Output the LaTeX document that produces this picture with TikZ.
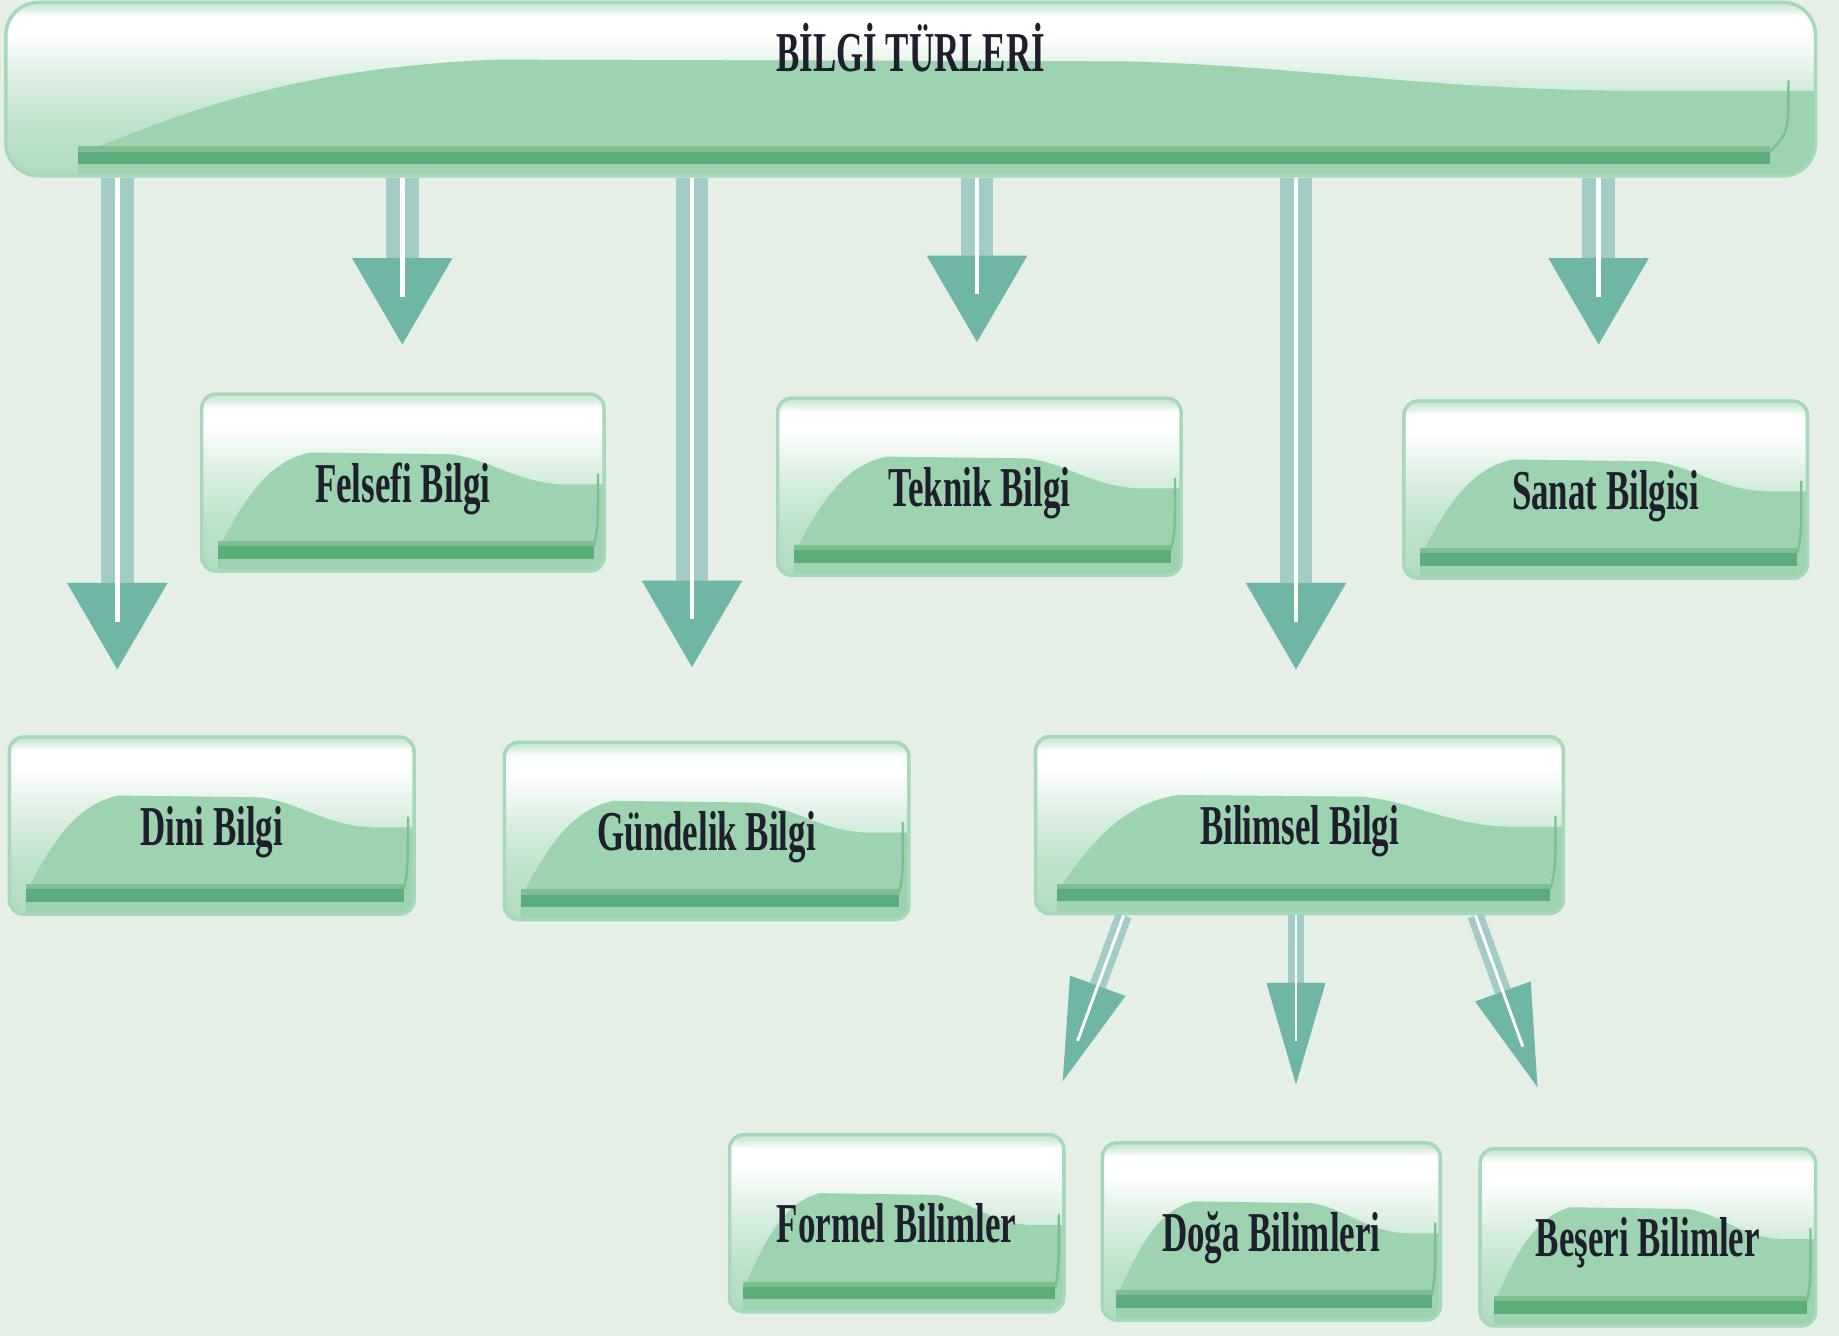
\documentclass[tikz,border=0pt]{standalone}
\usepackage{fontspec}
\newfontfamily\boxfont[FakeStretch=0.62]{Liberation Serif}
\usetikzlibrary{arrows.meta,calc}

\definecolor{bgcol}{HTML}{E5EFE6}
\definecolor{boxgreen}{HTML}{9DD3AF}
\definecolor{boxedge}{HTML}{A6D9B8}
\definecolor{banddark}{HTML}{5DAD7C}
\definecolor{bandmid}{HTML}{7DBF93}
\definecolor{shaftcol}{HTML}{A2CCC5}
\definecolor{tipcol}{HTML}{70B6A7}
\definecolor{txtcol}{HTML}{1E1E2C}

\pgfdeclareverticalshading{glossy}{100bp}{color(0bp)=(boxgreen!80!white); color(25bp)=(boxgreen!80!white); color(40bp)=(boxgreen!65!white); color(52bp)=(boxgreen!40!white); color(62bp)=(boxgreen!12!white); color(66bp)=(white); color(71bp)=(white); color(74bp)=(boxgreen!50!white); color(100bp)=(boxgreen!50!white)}

\begin{document}
\begin{tikzpicture}[x=1pt, y=-1pt,
  glossbox/.style={draw=boxedge, line width=3pt, rounded corners=12pt, fill=boxgreen, minimum width=#1, minimum height=151pt, inner sep=0pt, text depth=0pt, text=txtcol, font=\boxfont\bfseries\fontsize{48}{50}\selectfont,
    path picture={
      \shade[shading=glossy, sharp corners] (path picture bounding box.south west) rectangle (path picture bounding box.north east);
      \fill[boxgreen, sharp corners] let \p1=(path picture bounding box.south west), \p2=(path picture bounding box.north east), \n1={\x2-\x1}, \n2={\y2-\y1} in
        ({\x1+0.04*\n1},{\y1}) -- ({\x1+0.04*\n1},{\y1+0.12*\n2})
        .. controls ({\x1+0.1*\n1},{\y1+0.38*\n2}) and ({\x1+0.16*\n1},{\y1+0.62*\n2}) .. ({\x1+0.27*\n1},{\y1+0.67*\n2})
        -- ({\x1+0.62*\n1},{\y1+0.66*\n2})
        .. controls ({\x1+0.72*\n1},{\y1+0.63*\n2}) and ({\x1+0.78*\n1},{\y1+0.5*\n2}) .. ({\x1+0.9*\n1},{\y1+0.49*\n2})
        -- ({\x2},{\y1+0.49*\n2}) -- (\x2,\y1) -- cycle;
      \fill[bandmid, sharp corners] let \p1=(path picture bounding box.south west), \p2=(path picture bounding box.north east), \n1={\x2-\x1}, \n2={\y2-\y1} in
        ({\x1+0.04*\n1},{\y1+0.07*\n2}) rectangle ({\x1+0.975*\n1},{\y1+0.17*\n2});
      \fill[banddark, sharp corners] let \p1=(path picture bounding box.south west), \p2=(path picture bounding box.north east), \n1={\x2-\x1}, \n2={\y2-\y1} in
        ({\x1+0.04*\n1},{\y1+0.07*\n2}) rectangle ({\x1+0.975*\n1},{\y1+0.14*\n2});
      \draw[bandmid, line width=2pt, sharp corners] let \p1=(path picture bounding box.south west), \p2=(path picture bounding box.north east), \n1={\x2-\x1}, \n2={\y2-\y1} in
        ({\x1+0.975*\n1},{\y1+0.14*\n2}) .. controls ({\x1+0.985*\n1},{\y1+0.25*\n2}) .. ({\x1+0.985*\n1},{\y1+0.55*\n2});
    }},
  bigarrow/.style={draw=shaftcol, line width=28pt, -{Triangle[length=75pt, width=80pt, color=tipcol]}},
  smallarrow/.style={draw=shaftcol, line width=14pt, -{Triangle[length=90pt, width=46pt, color=tipcol]}},
  shine/.style={draw=white, line width=#1}]

\fill[bgcol] (0,0) rectangle (1568,1139);

% main heading
\node[glossbox=1543pt, minimum height=148pt, rounded corners=28pt] (banner) at (776.5,76) {};
\node[text=txtcol, font=\boxfont\bfseries\fontsize{48}{50}\selectfont] (title) at ([yshift=-40pt]banner.north) {BİLGİ TÜRLERİ};

% first row
\node[glossbox=343pt] (felsefi) at (343.5,411.5) {Felsefi Bilgi};
\node[glossbox=344pt] (teknik) at (835,415) {Teknik Bilgi};
\node[glossbox=344pt] (sanat) at (1369,417.5) {Sanat Bilgisi};

% second row
\node[glossbox=345pt] (dini) at (180.5,704) {Dini Bilgi};
\node[glossbox=345pt] (gundelik) at (602.5,708.5) {Gündelik Bilgi};
\node[glossbox=450pt] (bilimsel) at (1108,703.5) {Bilimsel Bilgi};

% sciences
\node[glossbox=285pt] (formel) at (764.5,1043) {Formel Bilimler};
\node[glossbox=288pt] (doga) at (1084,1050) {Doğa Bilimleri};
\node[glossbox=286pt] (beseri) at (1405,1055) {Beşeri Bilimler};

\coordinate (dinitip) at (100,572);
\coordinate (felsefitip) at (343,295);
\coordinate (gundeliktip) at (590,570);
\coordinate (teknitip) at (833,293);
\coordinate (bilimseltip) at (1105,572);
\coordinate (sanattip) at (1363,295);
\coordinate (formeltip) at (905,925);
\coordinate (dogatip) at (1105,928);
\coordinate (beseritip) at (1312,930);

\foreach \t in {dinitip,felsefitip,gundeliktip,teknitip,bilimseltip,sanattip}{
  \draw[bigarrow] (banner.south -| \t) -- (\t);
  \draw[shine=4pt, shorten >=42pt] (banner.south -| \t) -- (\t);}

\foreach \dx/\t in {-150/formeltip,-3/dogatip,150/beseritip}{
  \draw[smallarrow] ([xshift=\dx pt]bilimsel.south) -- (\t);
  \draw[shine=2.5pt, shorten >=40pt] ([xshift=\dx pt]bilimsel.south) -- (\t);}
\end{tikzpicture}
\end{document}
